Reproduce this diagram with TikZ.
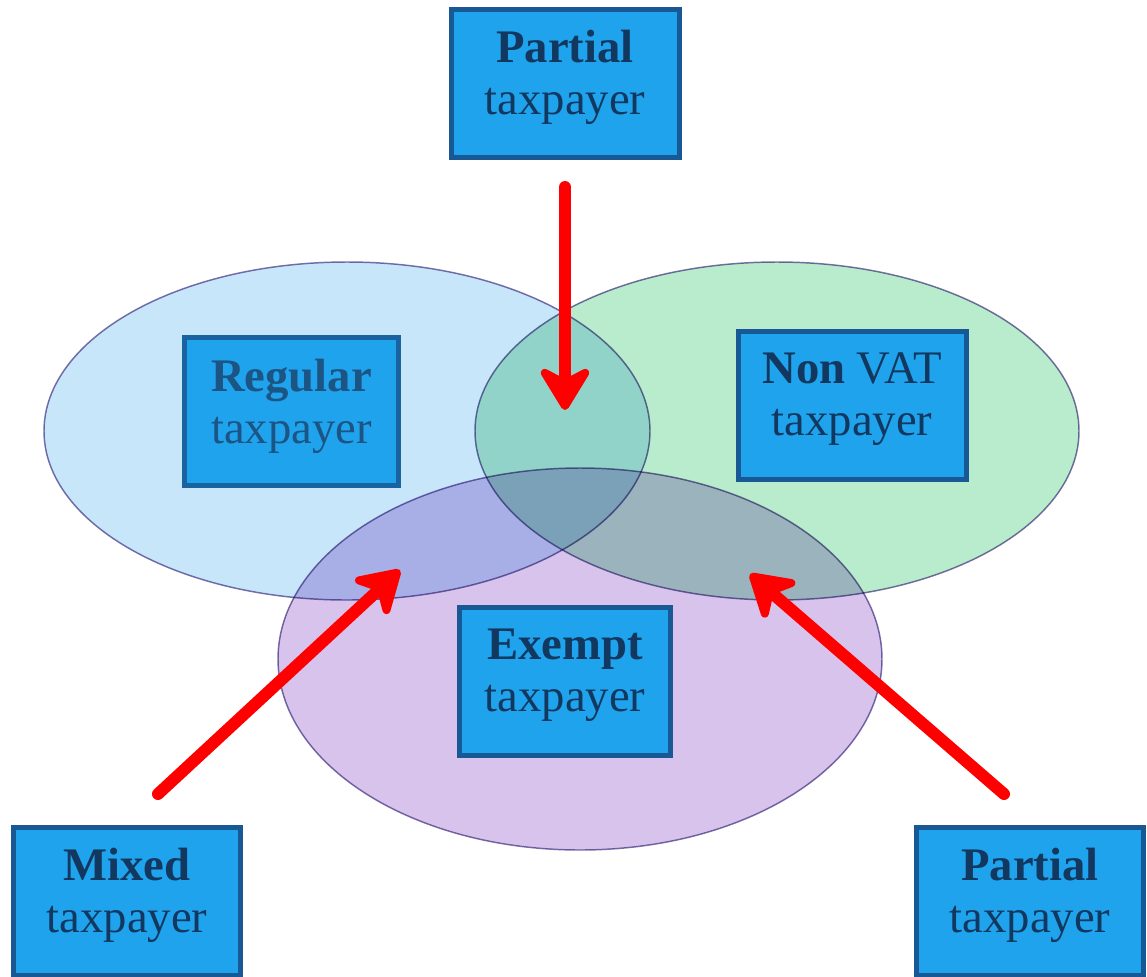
\documentclass[tikz,border=0pt]{standalone}
\usepackage{fontspec}
\setmainfont{Liberation Serif}
\usetikzlibrary{arrows.meta}
\definecolor{boxfill}{RGB}{31,163,236}
\definecolor{boxborder}{RGB}{24,88,148}
\definecolor{boxtext}{RGB}{18,56,96}
\definecolor{regtext}{RGB}{28,84,132}
\definecolor{ellblue}{RGB}{200,230,250}
\definecolor{ellgreen}{RGB}{185,235,205}
\definecolor{ellpurple}{RGB}{215,195,235}
\definecolor{ellline}{RGB}{125,115,170}
\definecolor{arrowred}{RGB}{255,0,0}
\tikzset{
  tbox/.style={draw=boxborder, line width=3.75pt, fill=boxfill, text=boxtext,
    align=center, inner sep=0pt, font=\fontsize{35}{39}\selectfont},
  ell/.style={draw=ellline, line width=1.1pt, blend mode=multiply},
  redarrow/.style={draw=arrowred, line width=9pt, line cap=round, line join=round,
    -{Stealth[length=38pt, width=46pt, inset=12pt, line width=6pt, round]}}
}
\newcommand{\lowdepth}{\rule[-16pt]{0pt}{0pt}}
\begin{document}
\begin{tikzpicture}[x=0.75pt,y=-0.75pt]
\useasboundingbox (0,0) rectangle (1147,976);
% ellipses
\path[ell, fill=ellblue] (347,431) ellipse [x radius=303, y radius=169];
\path[ell, fill=ellgreen] (777,431) ellipse [x radius=302, y radius=169];
\path[ell, fill=ellpurple] (580,659) ellipse [x radius=302, y radius=191];
% boxes
\node[tbox, minimum width=160pt, minimum height=111pt, text=regtext, draw=boxborder!85!boxfill] (regular) at (291.5,411.5) {\textbf{Regular}\\taxpayer\lowdepth};
\node[tbox, minimum width=171pt, minimum height=111pt] (nonvat) at (852,405) {\textbf{Non} VAT\\taxpayer\lowdepth};
\node[tbox, minimum width=158pt, minimum height=111pt] (exempt) at (565,681) {\textbf{Exempt}\\taxpayer\lowdepth};
\node[tbox, minimum width=171pt, minimum height=111pt] (partialtop) at (565,83) {\textbf{Partial}\\taxpayer\lowdepth};
\node[tbox, minimum width=170pt, minimum height=111pt] (mixed) at (127,901) {\textbf{Mixed}\\taxpayer\lowdepth};
\node[tbox, minimum width=170pt, minimum height=111pt] (partialbr) at (1030,901) {\textbf{Partial}\\taxpayer\lowdepth};
% arrows
\coordinate (tA) at (565,187);
\coordinate (tB) at (565,410);
\coordinate (lA) at (158,794);
\coordinate (lB) at (400,570);
\coordinate (rA) at (1004,794);
\coordinate (rB) at (750,574);
\draw[redarrow] (tA) -- (tB);
\draw[redarrow] (lA) -- (lB);
\draw[redarrow] (rA) -- (rB);
\end{tikzpicture}
\end{document}
